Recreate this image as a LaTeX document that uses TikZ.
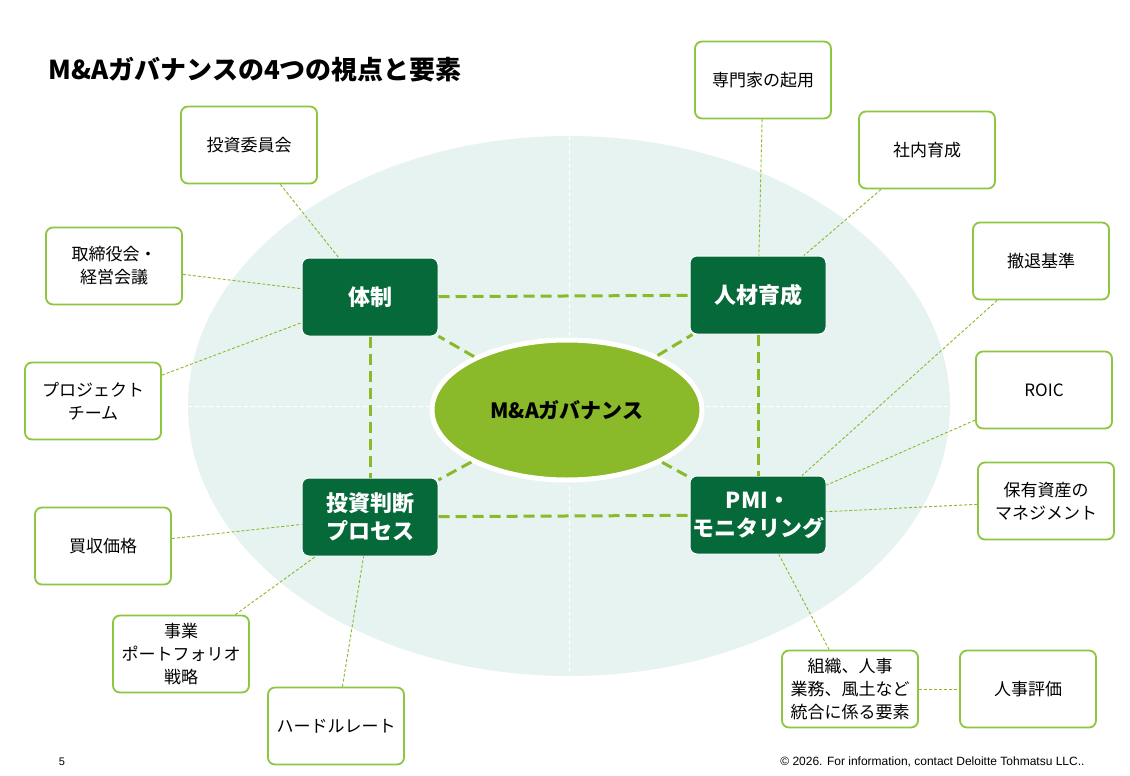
\documentclass[tikz,border=0pt]{standalone}
\usepackage{fontspec}
\setmainfont{Noto Sans CJK JP}
\newfontfamily\arialf{Liberation Sans}
\usetikzlibrary{shapes.geometric}
\definecolor{dg}{HTML}{05693A}
\definecolor{lg}{HTML}{8AB929}
\definecolor{bd}{HTML}{8DC63F}
\definecolor{bg}{HTML}{E6F3F1}
\begin{document}
\begin{tikzpicture}[x=1pt,y=-1pt,
 wbox/.style={draw=bd,line width=1.8pt,fill=white,rounded corners=7pt,minimum width=136pt,minimum height=77pt,align=center,font=\fontsize{17}{23}\selectfont,inner sep=0pt},
 gbox/.style={draw=white,line width=1pt,fill=dg,rounded corners=7pt,minimum width=136pt,minimum height=78pt,align=center,text=white,font=\fontsize{22}{28}\bfseries\selectfont,inner sep=0pt},
 thin/.style={draw=lg,line width=0.9pt,dash pattern=on 3pt off 2pt},
 thick/.style={draw=lg,line width=3pt,dash pattern=on 11pt off 6pt}]
\useasboundingbox (0,0) rectangle (1130,776);
\fill[white] (0,0) rectangle (1130,776);
\node[anchor=west,font=\fontsize{26}{30}\bfseries\selectfont] (title) at (45,70) {M\&Aガバナンスの4つの視点と要素};
\node[ellipse,fill=bg,minimum width=762pt,minimum height=540pt,inner sep=0pt] (big) at (569,406) {};
\draw[white,line width=1pt,dash pattern=on 4pt off 3pt] (big.west) -- (big.east);
\draw[white,line width=1pt,dash pattern=on 4pt off 3pt] (big.north) -- (big.south);
\node[ellipse,fill=lg,draw=white,line width=5pt,minimum width=270pt,minimum height=140pt,font=\fontsize{21}{25}\bfseries\selectfont] (c) at (567,410) {M\&Aガバナンス};
\node[gbox] (t) at (370,297) {体制};
\node[gbox] (j) at (758,295) {人材育成};
\node[gbox] (p) at (370,517) {投資判断\\プロセス};
\node[gbox] (m) at (758,515) {PMI・\\モニタリング};
\draw[thick] (t) -- (j);
\draw[thick] (p) -- (m);
\draw[thick] (t) -- (p);
\draw[thick] (j) -- (m);
\foreach \b in {t,j,p,m} \draw[thick] (c) -- (\b);
\node[wbox] (a1) at (249,145) {投資委員会};
\node[wbox] (a2) at (114,266) {取締役会・\\経営会議};
\node[wbox] (a3) at (93,401) {プロジェクト\\チーム};
\node[wbox] (a4) at (103,546) {買収価格};
\node[wbox] (a5) at (181,654) {事業\\ポートフォリオ\\戦略};
\node[wbox] (a6) at (336,726) {ハードルレート};
\node[wbox] (b1) at (763,80) {専門家の起用};
\node[wbox] (b2) at (927,150) {社内育成};
\node[wbox] (b3) at (1041,261) {撤退基準};
\node[wbox] (b4) at (1044,390) {ROIC};
\node[wbox] (b5) at (1046,501) {保有資産の\\マネジメント};
\node[wbox] (b6) at (850,689) {組織、人事\\業務、風土など\\統合に係る要素};
\node[wbox] (b7) at (1028,689) {人事評価};
\draw[thin] (a1) -- (t);
\draw[thin] (a2) -- (t);
\draw[thin] (a3) -- (t);
\draw[thin] (a4) -- (p);
\draw[thin] (a5) -- (p);
\draw[thin] (a6) -- (p);
\draw[thin] (b1) -- (j);
\draw[thin] (b2) -- (j);
\draw[thin] (b3) -- (m);
\draw[thin] (b4) -- (m);
\draw[thin] (b5) -- (m);
\draw[thin] (b6) -- (m);
\draw[thin] (b6) -- (b7);
\node[font=\arialf\fontsize{11}{13}\selectfont] (pg) at (62,762) {5};
\node[anchor=east,font=\arialf\fontsize{12}{14}\selectfont] (ft) at (1088,762) {© 2026. For information, contact Deloitte Tohmatsu LLC..};
\end{tikzpicture}
\end{document}
